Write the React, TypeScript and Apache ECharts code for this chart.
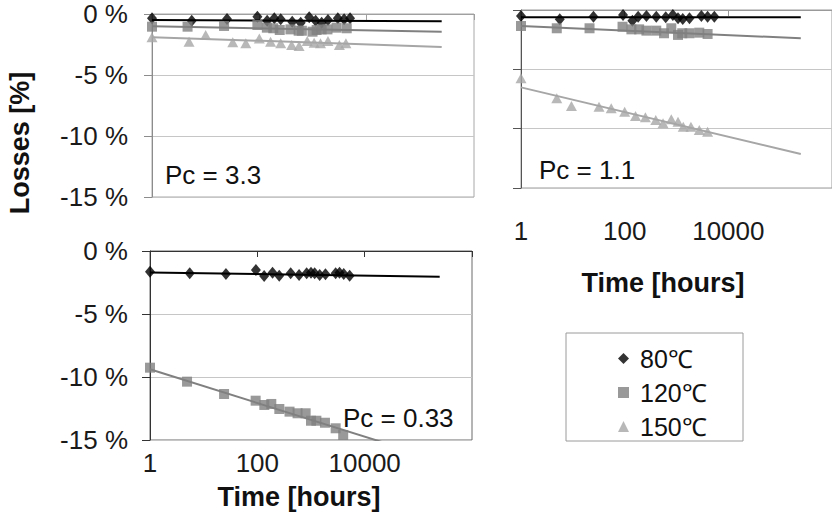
import React, { useEffect, useRef } from 'react';
import * as echarts from 'echarts';

const FONT = '"Liberation Sans", Arial, Helvetica, sans-serif';

// Trend lines span (hours)
const trendT = [1, 250000];

// Panel 1: Pc = 3.3
const tl80T = [1, 5.5, 25, 92, 140, 190, 250, 410, 590, 850, 1120, 1450, 1900, 2900, 3800, 4900];
const tl80V = [-0.35, -0.55, -0.41, -0.22, -0.55, -0.35, -0.43, -0.63, -0.71, -0.27, -0.55, -0.71, -0.49, -0.35, -0.43, -0.35];
const tl120T = [1, 4.6, 22, 92, 138, 182, 240, 380, 540, 620, 980, 1170, 1450, 1860, 2750, 4250];
const tl120V = [-1.04, -1.04, -0.98, -0.9, -1.12, -1.17, -1.31, -1.26, -1.37, -1.37, -1.45, -1.31, -1.26, -1.26, -1.12, -1.17];
const tl150T = [1, 4.9, 10, 32, 56, 100, 162, 250, 400, 550, 780, 1050, 1380, 1900, 3100, 4100];
const tl150V = [-1.91, -2.27, -1.72, -2.32, -2.4, -2.0, -2.27, -2.4, -2.54, -2.62, -2.21, -2.35, -2.4, -2.21, -2.54, -2.4];
const tl80Trend = [-0.5, -0.6];
const tl120Trend = [-1.0, -1.45];
const tl150Trend = [-1.9, -2.7];

// Panel 2: Pc = 1.1
const tr80T = [1, 5.6, 25, 93, 141, 182, 263, 407, 620, 850, 1070, 1320, 1780, 3020, 3980, 5370];
const tr80V = [-0.5, -0.79, -0.56, -0.42, -0.9, -0.56, -0.5, -0.56, -0.62, -0.42, -0.7, -0.76, -0.7, -0.5, -0.56, -0.56];
const tr120T = [1, 4.9, 21, 91, 135, 190, 263, 407, 575, 794, 1070, 1290, 1780, 2750, 3980];
const tr120V = [-1.35, -1.54, -1.54, -1.41, -1.63, -1.63, -1.74, -1.74, -1.96, -1.54, -2.1, -1.96, -1.96, -1.91, -2.02];
const tr150T = [1, 4.9, 9.4, 32, 55, 100, 162, 251, 398, 550, 794, 1070, 1350, 1900, 2750, 3980];
const tr150V = [-5.76, -7.44, -8.09, -8.15, -8.29, -8.57, -8.93, -9.04, -9.27, -9.55, -9.21, -9.41, -9.83, -9.83, -10.11, -10.25];
const tr80Trend = [-0.62, -0.62];
const tr120Trend = [-1.35, -2.38];
const tr150Trend = [-6.52, -12.13];

// Panel 3: Pc = 0.33
const bt80T = [1, 5.5, 26, 94, 134, 192, 256, 418, 600, 830, 1000, 1170, 1450, 1860, 2880, 3400, 4070, 5250];
const bt80V = [-1.64, -1.77, -1.83, -1.51, -1.98, -1.72, -1.96, -1.77, -1.9, -1.77, -1.72, -1.77, -1.9, -1.85, -1.77, -1.72, -1.83, -1.96];
const bt120T = [1, 4.9, 24, 93, 135, 182, 257, 398, 562, 794, 1000, 1260, 1820, 2880, 3980];
const bt120V = [-9.26, -10.37, -11.35, -11.88, -12.22, -12.14, -12.54, -12.75, -12.88, -12.88, -13.47, -13.47, -13.63, -14.07, -14.6];
const bt80Trend = [-1.7, -2.05];
const bt120Trend = [-9.39, -16.6];

const names = ['80\u2103', '120\u2103', '150\u2103'];
const yTicks = [-15, -10, -5, 0];

const C80 = '#000000';
const C120 = '#808080';
const C150 = '#a6a6a6';

const pts = (t: number[], v: number[]) => t.map((x, i) => [x, v[i]]);

const marks = (name: string, gi: number, t: number[], v: number[], symbol: string, size: any, color: string) => ({
  type: 'scatter', name, xAxisIndex: 2 * gi, yAxisIndex: gi, symbol, symbolSize: size,
  itemStyle: { color }, data: pts(t, v), z: 4, silent: true,
});
const trend = (name: string, gi: number, v: number[], color: string, width = 2) => ({
  type: 'line', name: name + ' trend', xAxisIndex: 2 * gi, yAxisIndex: gi, data: pts(trendT, v),
  symbol: 'none', showSymbol: false, lineStyle: { color, width }, z: 3, silent: true, clip: true,
});

const xBottom = (gi: number, show: boolean, margin: number) => ({
  type: 'log', logBase: 100, min: 1, max: 1e6, gridIndex: gi, position: 'bottom',
  axisLine: { show: false, onZero: false }, axisTick: { show: false }, splitLine: { show: false },
  axisLabel: {
    show: show, margin, fontSize: 26, color: '#1a1a1a', fontFamily: FONT, showMaxLabel: false,
    formatter: (v: number) => (v >= 999999 ? '' : String(Math.round(v))),
  },
});
const xTop = (gi: number, color: string) => ({
  type: 'log', logBase: 100, min: 1, max: 1e6, gridIndex: gi, position: 'top',
  axisLine: { show: true, onZero: false, lineStyle: { color, width: 1 } },
  axisTick: { show: true, inside: true, length: 6, lineStyle: { color } },
  axisLabel: { show: false }, splitLine: { show: false },
});
const yAx = (gi: number, show: boolean, margin: number, color: string) => ({
  type: 'value', gridIndex: gi, min: yTicks[0], max: yTicks[yTicks.length - 1], interval: 5,
  axisLine: { show: true, onZero: false, lineStyle: { color } },
  axisTick: { show: true, length: 8, lineStyle: { color } },
  splitLine: { show: true, lineStyle: { color: '#c6c6c6' } },
  axisLabel: {
    show, margin, fontSize: 26, color: '#1a1a1a', fontFamily: FONT,
    formatter: (v: number) => `${v} %`,
  },
});

const txt = (text: string, x: number, y: number, opts: any = {}) => ({
  type: 'text', x, y, rotation: opts.rotation || 0, silent: true, z: 10,
  style: {
    text, x: 0, y: 0, fill: '#111', fontFamily: FONT, fontSize: opts.fontSize || 26,
    fontWeight: opts.bold ? 'bold' : 'normal', textAlign: opts.align || 'left', textVerticalAlign: 'middle',
  },
});

export default function App() {
  const ref = useRef<HTMLDivElement>(null);
  useEffect(() => {
    if (!ref.current) return;
    const chart = echarts.init(ref.current, undefined, { renderer: 'svg' });
    const option: any = {
      animation: false,
      backgroundColor: '#ffffff',
      textStyle: { fontFamily: FONT },
      grid: [
        { left: 152, top: 14, width: 322, height: 183, show: true, borderColor: '#a8a8a8', borderWidth: 1 },
        { left: 521, top: 10, width: 312, height: 178, show: true, borderColor: '#9a9a9a', borderWidth: 1 },
        { left: 150, top: 251, width: 322, height: 189, show: true, borderColor: '#6a6a6a', borderWidth: 1 },
      ],
      xAxis: [
        xBottom(0, false, 10), xTop(0, '#a0a0a0'),
        xBottom(1, true, 30), xTop(1, '#999999'),
        xBottom(2, true, 10), xTop(2, '#333333'),
      ],
      yAxis: [yAx(0, true, 24, '#8c8c8c'), yAx(1, false, 24, '#555555'), yAx(2, true, 22, '#333333')],
      legend: {
        orient: 'vertical', left: 613, top: 341, itemWidth: 11, itemHeight: 11, itemGap: 9,
        selectedMode: false,
        data: [
          { name: names[0], icon: 'diamond' },
          { name: names[1], icon: 'rect' },
          { name: names[2], icon: 'triangle' },
        ],
        textStyle: { fontSize: 25, lineHeight: 25, color: '#111', fontFamily: FONT, padding: [0, 0, 0, 6] },
      },
      graphic: [
        {
          type: 'rect', shape: { x: 566, y: 333, width: 177, height: 108 }, silent: true, z: -1,
          style: { fill: '#ffffff', stroke: '#9a9a9a', lineWidth: 1 },
        },
        txt('Losses [%]', 20, 143, { rotation: Math.PI / 2, bold: true, fontSize: 27, align: 'center' }),
        txt('Time [hours]', 663, 283, { bold: true, fontSize: 27, align: 'center' }),
        txt('Time [hours]', 299, 497, { bold: true, fontSize: 27, align: 'center' }),
        txt('Pc = 3.3', 165, 175),
        txt('Pc = 1.1', 539, 170),
        txt('Pc = 0.33', 343, 418),
      ],
      series: [
        trend(names[0], 0, tl80Trend, C80),
        trend(names[1], 0, tl120Trend, C120),
        trend(names[2], 0, tl150Trend, C150),
        marks(names[0], 0, tl80T, tl80V, 'diamond', [10, 12], C80),
        marks(names[1], 0, tl120T, tl120V, 'rect', 10, C120),
        marks(names[2], 0, tl150T, tl150V, 'triangle', [11, 10], C150),

        trend(names[0], 1, tr80Trend, C80),
        trend(names[1], 1, tr120Trend, C120),
        trend(names[2], 1, tr150Trend, C150),
        marks(names[0], 1, tr80T, tr80V, 'diamond', [10, 12], C80),
        marks(names[1], 1, tr120T, tr120V, 'rect', 10, C120),
        marks(names[2], 1, tr150T, tr150V, 'triangle', [11, 10], C150),

        trend(names[0], 2, bt80Trend, C80),
        trend(names[1], 2, bt120Trend, C120),
        marks(names[0], 2, bt80T, bt80V, 'diamond', [10, 12], C80),
        marks(names[1], 2, bt120T, bt120V, 'rect', 10, C120),
      ],
    };
    chart.setOption(option);
    return () => chart.dispose();
  }, []);
  return (
    <div
      ref={ref}
      style={{ position: 'absolute', left: 0, top: 0, width: 832, height: 518, background: '#fff' }}
    />
  );
}
